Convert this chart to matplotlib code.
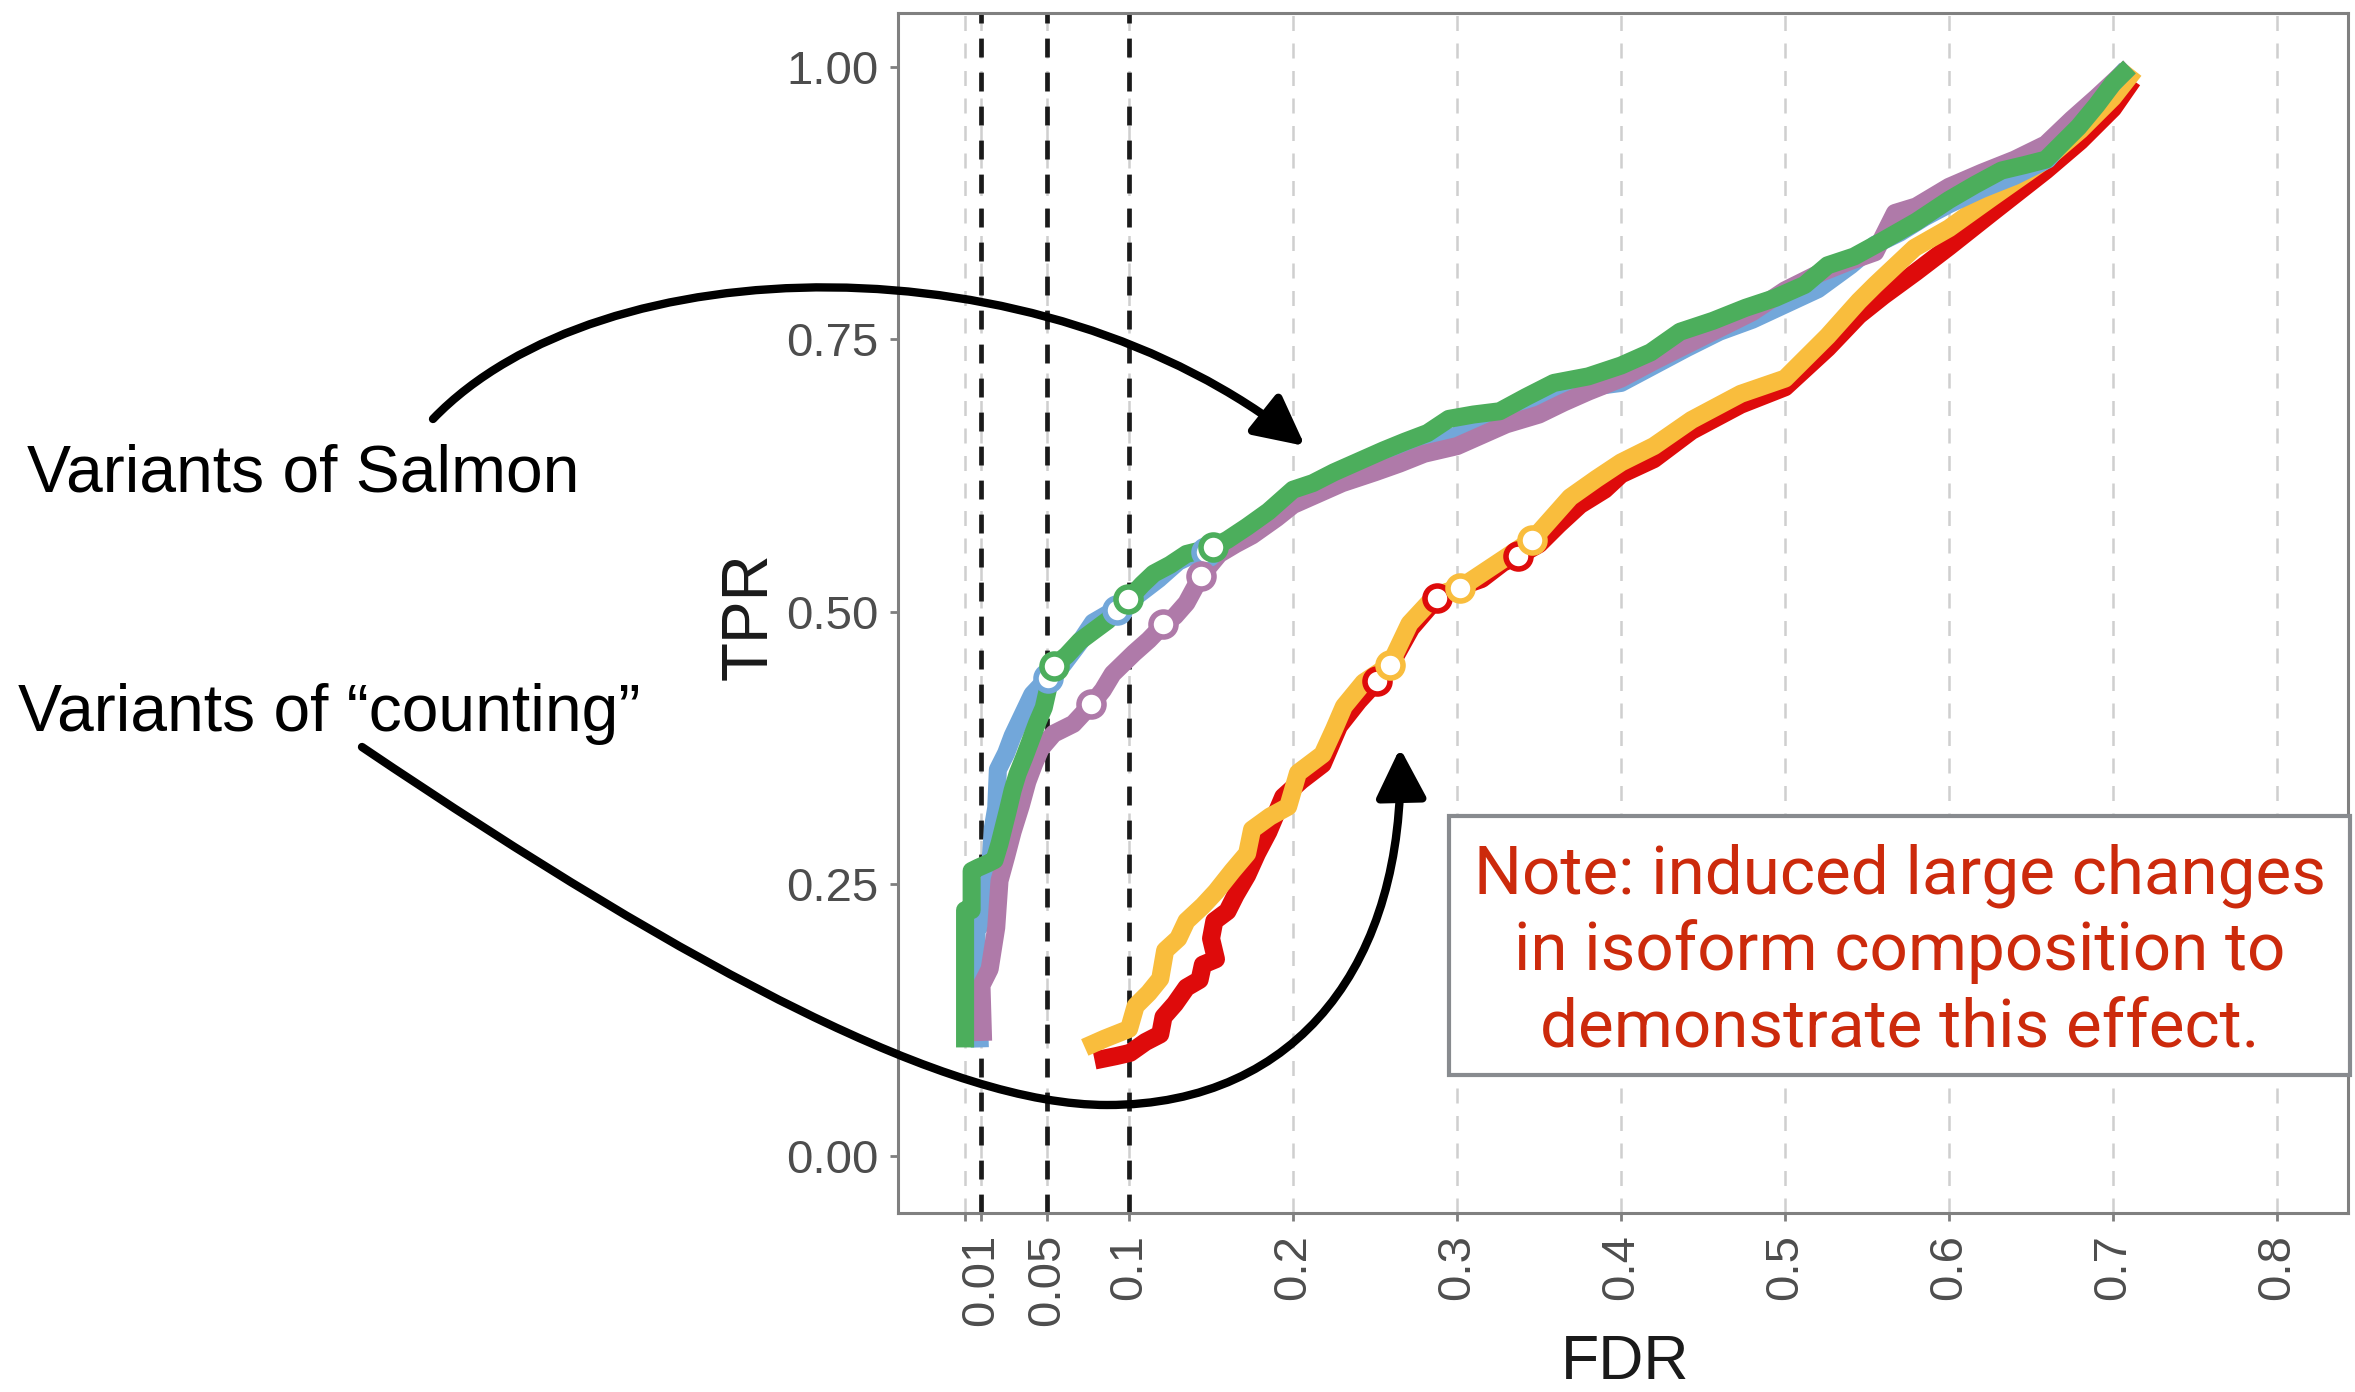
import matplotlib
matplotlib.use("Agg")
import matplotlib.pyplot as plt
from matplotlib.patches import FancyArrowPatch, Rectangle
from matplotlib.path import Path

plt.rcParams['font.family'] = ['Liberation Sans', 'DejaVu Sans']

W, H = 2355, 1392

# FDR / TPR curves
blue_fdr = [0.009, 0.008, 0.007, 0.007, 0.012, 0.014, 0.016, 0.017, 0.019, 0.020, 0.025, 0.029, 0.035, 0.041, 0.046, 0.0506,
            0.060, 0.070, 0.078, 0.086, 0.0925, 0.105, 0.118, 0.130, 0.140, 0.147, 0.158, 0.170, 0.185, 0.200, 0.220, 0.240,
            0.260, 0.280, 0.300, 0.320, 0.340, 0.360, 0.380, 0.400, 0.420, 0.440, 0.460, 0.480, 0.500, 0.520, 0.540, 0.555,
            0.570, 0.585, 0.600, 0.620, 0.640, 0.660, 0.680, 0.700, 0.708]
blue_tpr = [0.100, 0.150, 0.180, 0.210, 0.215, 0.240, 0.280, 0.302, 0.320, 0.355, 0.370, 0.386, 0.405, 0.424, 0.432, 0.439,
            0.452, 0.472, 0.490, 0.497, 0.502, 0.515, 0.530, 0.546, 0.553, 0.555, 0.560, 0.572, 0.590, 0.605, 0.615, 0.630,
            0.640, 0.650, 0.662, 0.672, 0.685, 0.698, 0.706, 0.710, 0.726, 0.742, 0.757, 0.768, 0.782, 0.796, 0.818, 0.837,
            0.848, 0.862, 0.874, 0.888, 0.900, 0.915, 0.950, 0.985, 0.998]

purple_fdr = [0.011, 0.010, 0.015, 0.019, 0.021, 0.025, 0.029, 0.034, 0.038, 0.042, 0.046, 0.054, 0.066, 0.0765, 0.084, 0.090,
              0.103, 0.112, 0.121, 0.128, 0.135, 0.144, 0.155, 0.165, 0.175, 0.190, 0.200, 0.215, 0.230, 0.250, 0.265, 0.280,
              0.300, 0.315, 0.330, 0.350, 0.365, 0.380, 0.400, 0.420, 0.440, 0.460, 0.480, 0.500, 0.520, 0.540, 0.555, 0.567,
              0.580, 0.600, 0.620, 0.640, 0.659, 0.675, 0.690, 0.705, 0.710]
purple_tpr = [0.106, 0.157, 0.172, 0.210, 0.253, 0.275, 0.298, 0.322, 0.344, 0.360, 0.374, 0.388, 0.397, 0.414, 0.428, 0.443,
              0.462, 0.474, 0.488, 0.496, 0.508, 0.533, 0.553, 0.562, 0.570, 0.586, 0.598, 0.608, 0.618, 0.628, 0.636, 0.645,
              0.652, 0.662, 0.672, 0.681, 0.692, 0.702, 0.714, 0.730, 0.745, 0.760, 0.775, 0.795, 0.810, 0.822, 0.830, 0.866,
              0.872, 0.890, 0.903, 0.915, 0.929, 0.952, 0.972, 0.993, 1.000]

green_fdr = [0.000, 0.000, 0.004, 0.004, 0.008, 0.014, 0.018, 0.021, 0.024, 0.026, 0.029, 0.032, 0.036, 0.040, 0.044, 0.048,
             0.051, 0.054, 0.062, 0.070, 0.078, 0.087, 0.094, 0.100, 0.108, 0.115, 0.125, 0.135, 0.143, 0.151, 0.160, 0.172,
             0.185, 0.200, 0.212, 0.225, 0.240, 0.255, 0.268, 0.282, 0.295, 0.310, 0.326, 0.342, 0.359, 0.380, 0.400, 0.418,
             0.436, 0.456, 0.476, 0.494, 0.512, 0.526, 0.542, 0.559, 0.580, 0.600, 0.616, 0.632, 0.646, 0.659, 0.669, 0.679,
             0.690, 0.700, 0.710]
green_tpr = [0.100, 0.226, 0.226, 0.262, 0.265, 0.269, 0.272, 0.287, 0.305, 0.317, 0.336, 0.351, 0.366, 0.382, 0.398, 0.412,
             0.432, 0.450, 0.460, 0.473, 0.482, 0.492, 0.504, 0.512, 0.525, 0.535, 0.543, 0.553, 0.556, 0.559, 0.566, 0.578,
             0.592, 0.612, 0.618, 0.628, 0.638, 0.648, 0.656, 0.664, 0.677, 0.681, 0.684, 0.697, 0.710, 0.716, 0.726, 0.738,
             0.757, 0.767, 0.779, 0.788, 0.800, 0.818, 0.826, 0.840, 0.858, 0.878, 0.892, 0.905, 0.910, 0.915, 0.930, 0.945,
             0.965, 0.985, 1.000]

red_fdr = [0.079, 0.092, 0.1006, 0.110, 0.119, 0.121, 0.128, 0.135, 0.143, 0.145, 0.153, 0.150, 0.152, 0.160, 0.165, 0.172,
           0.178, 0.185, 0.194, 0.205, 0.218, 0.228, 0.240, 0.251, 0.262, 0.272, 0.288, 0.300, 0.315, 0.328, 0.337, 0.350,
           0.362, 0.375, 0.390, 0.400, 0.420, 0.443, 0.473, 0.500, 0.526, 0.545, 0.560, 0.580, 0.600, 0.626, 0.659, 0.680,
           0.700, 0.712]
red_tpr = [0.088, 0.092, 0.095, 0.105, 0.112, 0.128, 0.140, 0.155, 0.162, 0.176, 0.181, 0.200, 0.216, 0.225, 0.240, 0.258,
           0.278, 0.298, 0.330, 0.345, 0.360, 0.395, 0.418, 0.436, 0.458, 0.485, 0.513, 0.522, 0.530, 0.545, 0.551, 0.562,
           0.580, 0.598, 0.612, 0.626, 0.640, 0.666, 0.690, 0.706, 0.742, 0.772, 0.790, 0.812, 0.835, 0.866, 0.905, 0.932,
           0.962, 0.988]

orange_fdr = [0.073, 0.085, 0.100, 0.104, 0.112, 0.119, 0.122, 0.130, 0.135, 0.145, 0.153, 0.163, 0.172, 0.175, 0.186, 0.197,
              0.203, 0.218, 0.225, 0.231, 0.243, 0.259, 0.265, 0.271, 0.287, 0.302, 0.321, 0.346, 0.369, 0.385, 0.400, 0.420,
              0.443, 0.473, 0.500, 0.526, 0.545, 0.555, 0.579, 0.600, 0.626, 0.659, 0.680, 0.700, 0.713]
orange_tpr = [0.100, 0.108, 0.117, 0.138, 0.150, 0.163, 0.189, 0.200, 0.216, 0.230, 0.243, 0.262, 0.278, 0.300, 0.312, 0.321,
              0.352, 0.369, 0.392, 0.413, 0.435, 0.451, 0.470, 0.489, 0.515, 0.522, 0.541, 0.566, 0.605, 0.622, 0.637, 0.652,
              0.676, 0.700, 0.714, 0.753, 0.785, 0.800, 0.834, 0.852, 0.880, 0.915, 0.942, 0.972, 0.997]

# points at the nominal FDR thresholds 0.01 / 0.05 / 0.1
blue_pt_fdr = [0.0506, 0.0925, 0.147]
blue_pt_tpr = [0.439, 0.502, 0.555]
purple_pt_fdr = [0.0765, 0.121, 0.144]
purple_pt_tpr = [0.415, 0.489, 0.533]
green_pt_fdr = [0.054, 0.0996, 0.151]
green_pt_tpr = [0.450, 0.512, 0.559]
red_pt_fdr = [0.251, 0.288, 0.337]
red_pt_tpr = [0.436, 0.513, 0.551]
orange_pt_fdr = [0.259, 0.302, 0.346]
orange_pt_tpr = [0.451, 0.522, 0.566]

thresholds = [0.01, 0.05, 0.1]
x_ticks = [0, 0.01, 0.05, 0.1, 0.2, 0.3, 0.4, 0.5, 0.6, 0.7, 0.8]
x_labels = ['', '0.01', '0.05', '0.1', '0.2', '0.3', '0.4', '0.5', '0.6', '0.7', '0.8']
y_ticks = [0, 0.25, 0.5, 0.75, 1.0]
y_labels = ['0.00', '0.25', '0.50', '0.75', '1.00']

BLUE = '#72a7da'
PURPLE = '#af7aa9'
GREEN = '#4cae5c'
RED = '#de0b0b'
ORANGE = '#f9bd3d'


def px(x, y):
    # figure pixel -> figure fraction
    return x / W, 1 - y / H


fig = plt.figure(figsize=(W / 100, H / 100), dpi=100)
l, b = px(898, 1213)
r, t = px(2348, 13)
ax = fig.add_axes([l, b, r - l, t - b])

ax.set_xlim(-0.0409, 0.8433)
ax.set_ylim(-0.052, 1.0496)

ax.grid(axis='x', color='#cfcfcf', linestyle=(0, (6, 5)), linewidth=1.8, zorder=0)
ax.set_axisbelow(True)
for v in thresholds:
    ax.axvline(v, color='#1a1a1a', linewidth=3.4, linestyle=(0, (4, 3.2)), zorder=1)

lw = 13
for fx, ty, c in [(red_fdr, red_tpr, RED), (orange_fdr, orange_tpr, ORANGE),
                  (blue_fdr, blue_tpr, BLUE), (purple_fdr, purple_tpr, PURPLE),
                  (green_fdr, green_tpr, GREEN)]:
    ax.plot(fx, ty, color=c, lw=lw, zorder=3, solid_capstyle='butt', solid_joinstyle='round')

for fx, ty, c in [(blue_pt_fdr, blue_pt_tpr, BLUE), (purple_pt_fdr, purple_pt_tpr, PURPLE),
                  (green_pt_fdr, green_pt_tpr, GREEN), (red_pt_fdr, red_pt_tpr, RED),
                  (orange_pt_fdr, orange_pt_tpr, ORANGE)]:
    ax.plot(fx, ty, 'o', mfc='white', mec=c, ms=18, mew=4, zorder=4)

ax.set_xticks(x_ticks)
ax.set_xticklabels(x_labels, rotation=90)
ax.set_yticks(y_ticks)
ax.set_yticklabels(y_labels)
ax.tick_params(axis='both', colors='#7f7f7f', labelcolor='#4d4d4d', labelsize=34,
               length=6, width=2)
ax.tick_params(axis='x', pad=9)
ax.tick_params(axis='y', pad=8)
for s in ax.spines.values():
    s.set_color('#808080')
    s.set_linewidth(2.2)

fig.text(*px(750, 616), 'TPR', rotation=90, ha='center', va='center', fontsize=46, color='#1a1a1a')
fig.text(*px(1625, 1379), 'FDR', ha='center', va='baseline', fontsize=45, color='#1a1a1a')

# left annotations
fig.text(*px(27, 491), 'Variants of Salmon', ha='left', va='baseline', fontsize=47.5, color='black')
fig.text(*px(18, 731), 'Variants of \u201ccounting\u201d', ha='left', va='baseline', fontsize=47.5, color='black')


def curve(points):
    verts = [px(*p) for p in points]
    codes = [Path.MOVETO] + [Path.CURVE4] * (len(verts) - 1)
    return Path(verts, codes)


arrow_kw = dict(arrowstyle='-|>,head_length=0.75,head_width=0.38', mutation_scale=40,
                color='black', lw=6, transform=fig.transFigure, zorder=10)
fig.patches.append(FancyArrowPatch(path=curve([(433, 419), (600, 245), (1040, 235), (1305, 446)]), **arrow_kw))
fig.patches.append(FancyArrowPatch(path=curve([(362, 747), (700, 975), (950, 1105), (1107, 1105),
                                               (1300, 1105), (1405, 960), (1400, 748)]), **arrow_kw))

# note box
bx0, by0 = px(1449, 1075)
bx1, by1 = px(2350, 816)
fig.patches.append(Rectangle((bx0, by0), bx1 - bx0, by1 - by0, transform=fig.transFigure,
                             facecolor='white', edgecolor='#888b8f', linewidth=3, zorder=11))
note_lines = ['Note: induced large changes', 'in isoform composition to', 'demonstrate this effect.']
note_base = [894, 970, 1047]
for line, yb in zip(note_lines, note_base):
    fig.text(*px(1900, yb), line, ha='center', va='baseline', fontsize=48.5, color='#cc2a0c',
             family=['Roboto', 'Liberation Sans'], zorder=12)

fig.savefig('out.png', dpi=100)
